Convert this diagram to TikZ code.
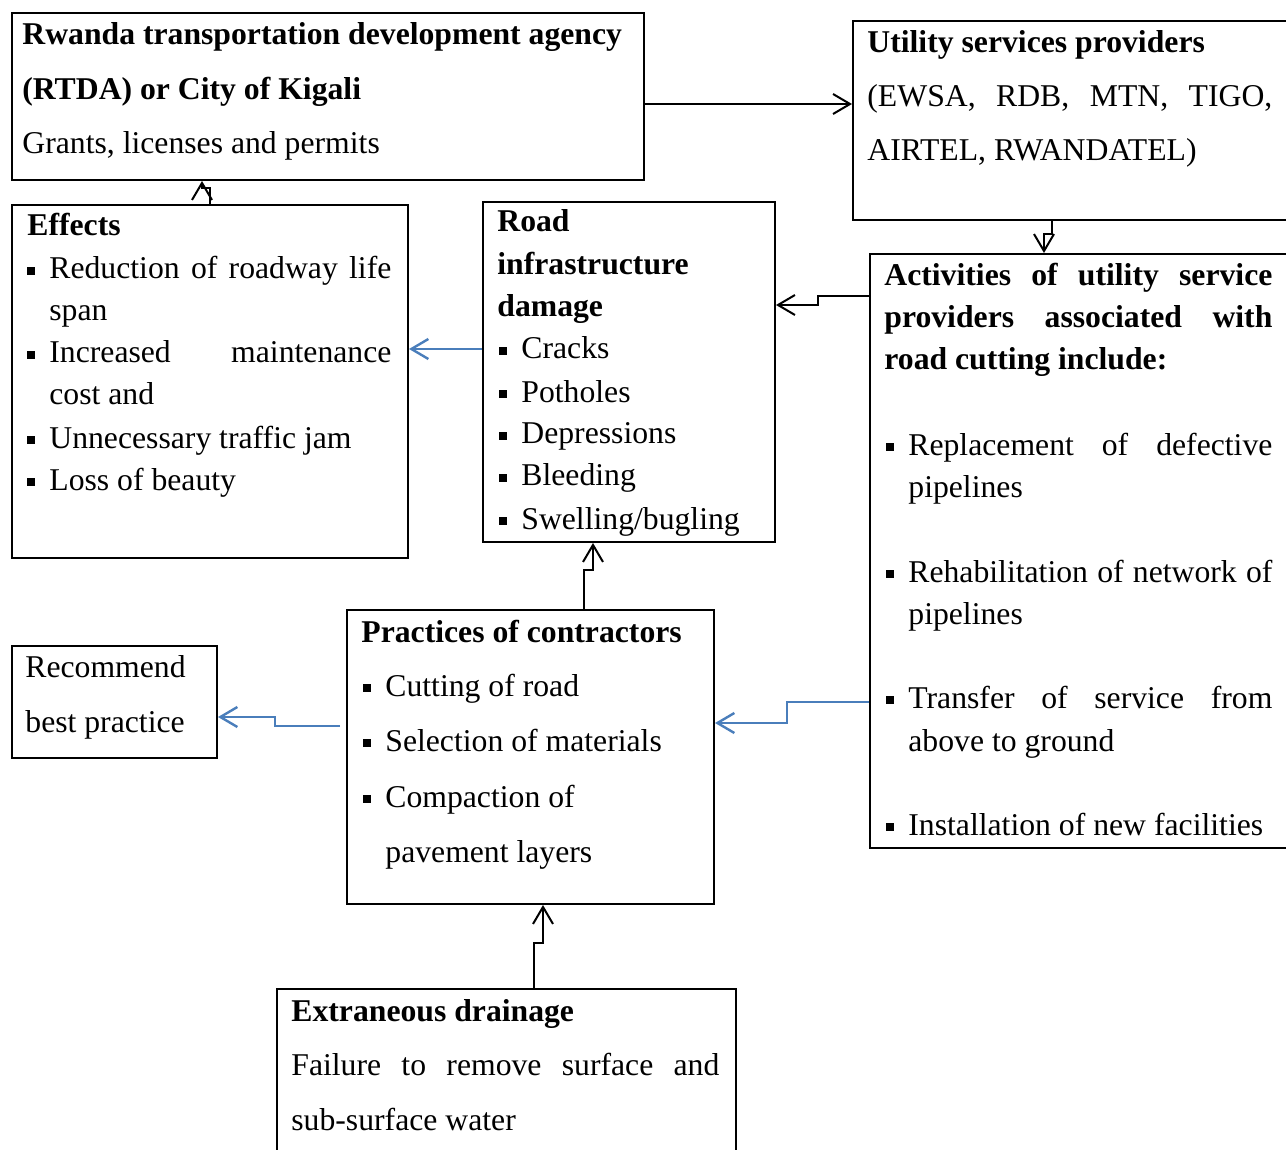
\documentclass[tikz,border=0pt]{standalone}
\usepackage{fontspec}
\setmainfont{Liberation Serif}
\usepackage{graphicx}
\usetikzlibrary{arrows.meta}
\definecolor{lblue}{HTML}{4A7EBB}
\newcommand\T[1]{#1}
\newcommand\J[2]{\makebox[\dimexpr #1pt/2\relax][s]{#2}}
\newcommand\sq{\rule[2.2pt]{4pt}{4pt}}
\newcommand\bl[1]{\makebox[11pt][l]{\sq}#1}
\begin{document}
\begin{tikzpicture}[x=0.5pt,y=-0.5pt,
 box/.style={draw,line width=1pt,inner sep=0pt,anchor=north west},
 txt/.style={anchor=base west,inner sep=0pt,yshift=-1pt,font=\fontsize{15.85}{18}\selectfont},
 conn/.style={line width=1pt,-{Straight Barb[length=8.5pt,width=10pt]}},
 bconn/.style={conn,draw=lblue,line width=1.2pt}]
\useasboundingbox (0,0) rectangle (1286,1150);
\clip (0,0) rectangle (1286,1150);
% boxes
\node[box,minimum width=316pt,minimum height=83.5pt] (rtda) at (11,12) {};
\node[box,minimum width=224pt,minimum height=99.5pt] (util) at (852,20) {};
\node[box,minimum width=198pt,minimum height=176.5pt] (eff) at (11,204) {};
\node[box,minimum width=146pt,minimum height=170pt] (road) at (482,201) {};
\node[box,minimum width=215.5pt,minimum height=297pt] (act) at (869,253) {};
\node[box,minimum width=183.5pt,minimum height=147pt] (prac) at (346,609) {};
\node[box,minimum width=102.5pt,minimum height=56pt] (rec) at (11,645) {};
\node[box,minimum width=229.5pt,minimum height=91pt] (drain) at (276,988) {};
% RTDA text
\node[txt] (t1) at (22,43) {\T{\textbf{Rwanda transportation development agency}}};
\node[txt] (t2) at (22,98) {\T{\textbf{(RTDA) or City of Kigali}}};
\node[txt] (t3) at (22,152) {\T{Grants, licenses and permits}};
% Utility text
\node[txt] (u1) at (867,51) {\T{\textbf{Utility services providers}}};
\node[txt] (u2) at (867,105) {\T{\J{405}{(EWSA, RDB, MTN, TIGO,}}};
\node[txt] (u3) at (867,159) {\T{AIRTEL, RWANDATEL)}};
% Effects text
\node[txt] (e1) at (27,234) {\T{\textbf{Effects}}};
\node[txt] (e2) at (27,277) {\T{\bl{\J{342}{Reduction of roadway life}}}};
\node[txt] (e3) at (49,319) {\T{span}};
\node[txt] (e4) at (27,361) {\T{\bl{\J{342}{Increased maintenance}}}};
\node[txt] (e5) at (49,403) {\T{cost and}};
\node[txt] (e6) at (27,446) {\T{\bl{Unnecessary traffic jam}}};
\node[txt] (e7) at (27,488) {\T{\bl{Loss of beauty}}};
% Road text
\node[txt] (r1) at (497,230) {\T{\textbf{Road}}};
\node[txt] (r2) at (497,273) {\T{\textbf{infrastructure}}};
\node[txt] (r3) at (497,315) {\T{\textbf{damage}}};
\node[txt] (r4) at (499,357) {\T{\bl{Cracks}}};
\node[txt] (r5) at (499,400) {\T{\bl{Potholes}}};
\node[txt] (r6) at (499,442) {\T{\bl{Depressions}}};
\node[txt] (r7) at (499,484) {\T{\bl{Bleeding}}};
\node[txt] (r8) at (499,527) {\T{\bl{Swelling/bugling}}};
% Activities text
\node[txt] (a1) at (884,284) {\T{\textbf{\J{388}{Activities of utility service}}}};
\node[txt] (a2) at (884,326) {\T{\textbf{\J{388}{providers associated with}}}};
\node[txt] (a3) at (884,368) {\T{\textbf{road cutting include:}}};
\node[txt] (a4) at (886,453) {\T{\bl{\J{364}{Replacement of defective}}}};
\node[txt] (a5) at (908,495) {\T{pipelines}};
\node[txt] (a6) at (886,580) {\T{\bl{\J{364}{Rehabilitation of network of}}}};
\node[txt] (a7) at (908,622) {\T{pipelines}};
\node[txt] (a8) at (886,706) {\T{\bl{\J{364}{Transfer of service from}}}};
\node[txt] (a9) at (908,749) {\T{above to ground}};
\node[txt] (a10) at (886,833) {\T{\bl{Installation of new facilities}}};
% Practices text
\node[txt] (p1) at (361,640) {\T{\textbf{Practices of contractors}}};
\node[txt] (p2) at (363,694) {\T{\bl{Cutting of road}}};
\node[txt] (p3) at (363,749) {\T{\bl{Selection of materials}}};
\node[txt] (p4) at (363,805) {\T{\bl{Compaction of}}};
\node[txt] (p5) at (385,860) {\T{pavement layers}};
% Recommend text
\node[txt] (c1) at (25,675) {\T{Recommend}};
\node[txt] (c2) at (25,730) {\T{best practice}};
% Drainage text
\node[txt] (d1) at (291,1019) {\T{\textbf{Extraneous drainage}}};
\node[txt] (d2) at (291,1073) {\T{\J{428}{Failure to remove surface and}}};
\node[txt] (d3) at (291,1128) {\T{sub-surface water}};
% connectors
\coordinate (k1) at ([yshift=-3.75pt]rtda.east);
\draw[conn] (k1) -- (k1 -| util.west);
\coordinate (k2) at ([xshift=99.5pt]eff.north west);
\draw[conn] (k2) -- ++(0,-16) -- ++(-8,0) coordinate (k3) -- (k3 |- rtda.south);
\coordinate (k4) at ([xshift=100pt]util.south west);
\draw[conn] (k4) -- ++(0,13) -- ++(-8,0) coordinate (k5) -- (k5 |- act.north);
\coordinate (k6) at ([yshift=-21.5pt]act.north west);
\draw[conn] (k6) -- ++(-51,0) -- ++(0,9) coordinate (k7) -- (k7 -| road.east);
\coordinate (k8) at ([yshift=-74pt]road.north west);
\draw[bconn] (k8) -- (k8 -| eff.east);
\coordinate (k9) at ([xshift=119pt]prac.north west);
\draw[conn] (k9) -- ++(0,-39) -- ++(9,0) coordinate (k10) -- (k10 |- road.south);
\coordinate (k11) at ([xshift=129pt]drain.north west);
\draw[conn] (k11) -- ++(0,-45) -- ++(9,0) coordinate (k12) -- (k12 |- prac.south);
\coordinate (k13) at ([xshift=-3pt,yshift=-58.5pt]prac.north west);
\draw[bconn] (k13) -- ++(-65,0) -- ++(0,-9) coordinate (k14) -- (k14 -| rec.east);
\coordinate (k15) at ([yshift=-224.5pt]act.north west);
\draw[bconn] (k15) -- ++(-82,0) -- ++(0,21) coordinate (k16) -- (k16 -| prac.east);
\end{tikzpicture}
\end{document}
